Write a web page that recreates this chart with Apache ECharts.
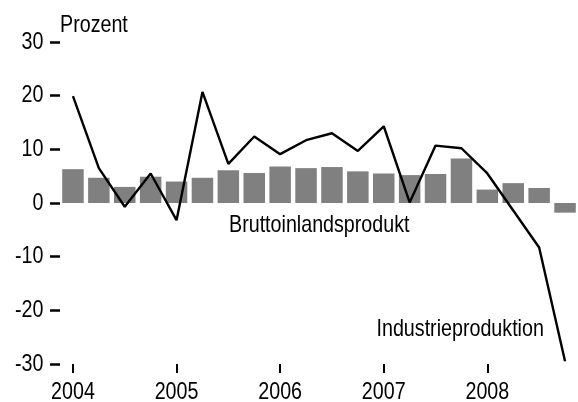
<!DOCTYPE html>
<html>
<head>
<meta charset="utf-8">
<script src="https://cdn.jsdelivr.net/npm/echarts@6/dist/echarts.min.js"></script>
<style>
    html, body { margin: 0; padding: 0; background: #fff; }
    #chart { width: 578px; height: 402px; }
</style>
</head>
<body>
<div id="chart"></div>
<script>
// Quartale 2004 bis 2008, Veraenderung gegenueber Vorjahr in Prozent
const quarters = [
    '2004', '2004Q2', '2004Q3', '2004Q4',
    '2005', '2005Q2', '2005Q3', '2005Q4',
    '2006', '2006Q2', '2006Q3', '2006Q4',
    '2007', '2007Q2', '2007Q3', '2007Q4',
    '2008', '2008Q2', '2008Q3', '2008Q4'
]
const yearLabels = ['2004', '2005', '2006', '2007', '2008']
const bip = [6.3, 4.7, 3.0, 4.9, 4.0, 4.7, 6.1, 5.6, 6.8, 6.5, 6.7, 5.9, 5.5, 5.2, 5.4, 8.3, 2.5, 3.7, 2.8, -1.8]
const industrie = [19.9, 6.5, -0.7, 5.5, -3.2, 20.7, 7.3, 12.4, 9.1, 11.7, 13.0, 9.7, 14.3, 0.1, 10.7, 10.2, 5.5, -1.4, -8.3, -29.5]
const yTickLabels = [-30, -20, -10, 0, 10, 20, 30]

// kein Arial Narrow vorhanden -> Liberation Sans horizontal gestaucht
const font = '"Liberation Sans", Arial, sans-serif'
const narrow = 0.82
const fontSize = 24

let chart = echarts.init(document.getElementById('chart'), null, { renderer: 'canvas' })

chart.setOption({
    animation: false,
    backgroundColor: '#fff',
    grid: { left: 60, right: -2, top: 42, bottom: 38, containLabel: false },
    xAxis: {
        type: 'category',
        data: quarters,
        boundaryGap: true,
        axisLine: { show: false, onZero: false },
        axisTick: {
            show: true,
            alignWithLabel: true,
            interval: 3,
            length: 9,
            lineStyle: { color: '#000', width: 2 }
        },
        axisLabel: { show: false, interval: 3 },
        splitLine: { show: false }
    },
    yAxis: {
        type: 'value',
        min: yTickLabels[0],
        max: yTickLabels[yTickLabels.length - 1],
        interval: 10,
        axisLine: { show: false },
        axisTick: { show: true, length: 10, lineStyle: { color: '#000', width: 2.5 } },
        axisLabel: { show: false },
        splitLine: { show: false }
    },
    series: [
        {
            name: 'Bruttoinlandsprodukt',
            type: 'bar',
            data: bip,
            barCategoryGap: '17%',
            itemStyle: { color: '#808080' }
        },
        {
            name: 'Industrieproduktion',
            type: 'line',
            data: industrie,
            symbol: 'none',
            lineStyle: { color: '#000', width: 2.4 },
            z: 5
        }
    ]
})

function narrowText(text, x, y, align) {
    return {
        type: 'text',
        x: x,
        y: y,
        scaleX: narrow,
        silent: true,
        style: {
            text: text,
            fontSize: fontSize,
            fontFamily: font,
            fill: '#000',
            textAlign: align,
            textVerticalAlign: 'middle'
        }
    }
}

// Achsenbeschriftungen an den Positionen der Skalen
let graphics = []
yTickLabels.forEach(v => {
    let py = chart.convertToPixel({ yAxisIndex: 0 }, v)
    graphics.push(narrowText(String(v), 43.5, py, 'right'))
})
yearLabels.forEach(y => {
    let px = chart.convertToPixel({ xAxisIndex: 0 }, y)
    graphics.push(narrowText(y, px, 392, 'center'))
})
graphics.push(narrowText('Prozent', 60, 25, 'left'))
graphics.push(narrowText('Bruttoinlandsprodukt', 229, 225, 'left'))
graphics.push(narrowText('Industrieproduktion', 376.5, 329, 'left'))

chart.setOption({ graphic: graphics })
</script>
</body>
</html>
